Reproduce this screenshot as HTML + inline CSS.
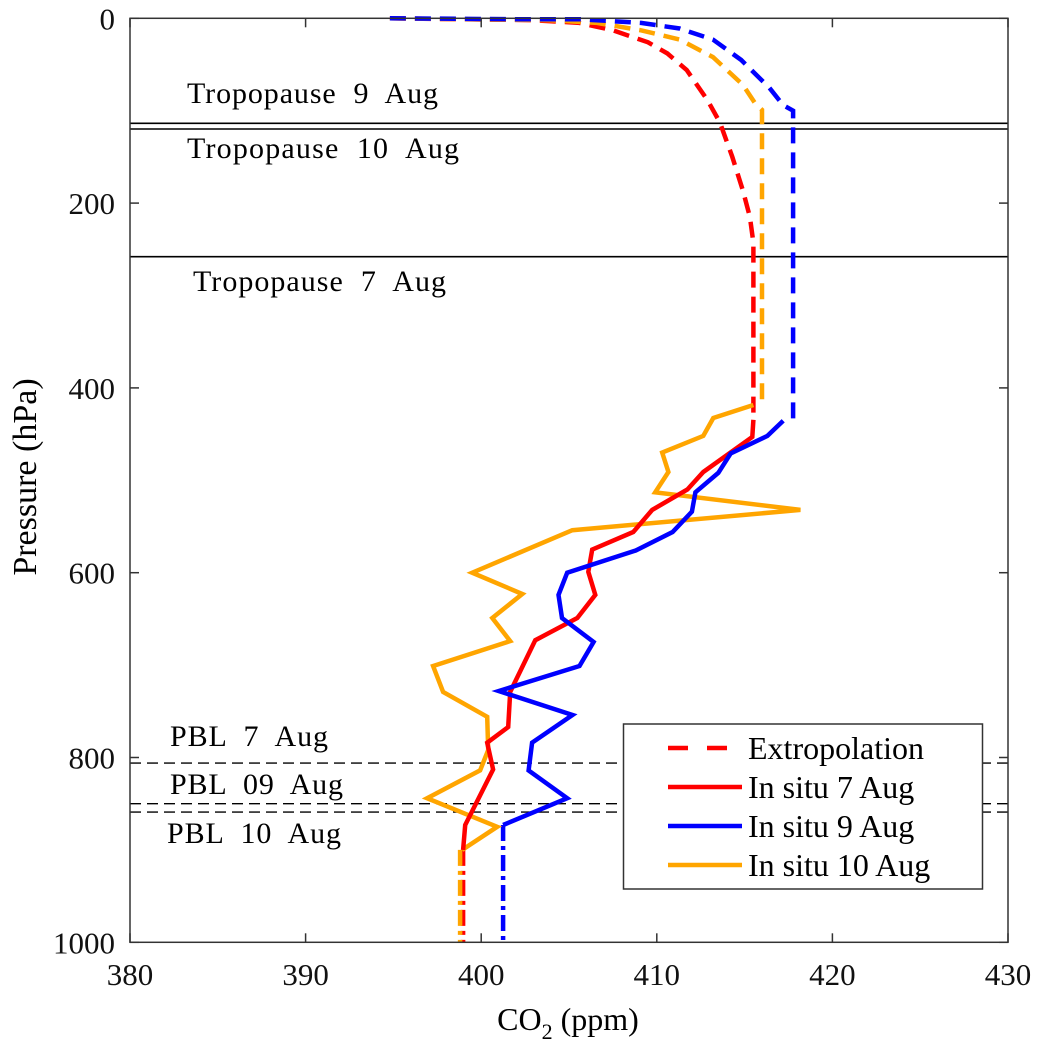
<!DOCTYPE html>
<html><head><meta charset="utf-8">
<style>
html,body{margin:0;padding:0;background:#fff;}
svg{display:block;font-family:"Liberation Serif",serif;}
</style></head>
<body>
<svg id="chart" width="1041" height="1053" viewBox="0 0 1041 1053" xmlns="http://www.w3.org/2000/svg"></svg>
<script>
// ---- data ----
const xTicks = [380, 390, 400, 410, 420, 430];
const yTicks = [0, 200, 400, 600, 800, 1000];

const red7Co2 = [415.50,415.44,412.65,411.74,409.74,408.66,406.32,406.10,406.50,405.47,403.08,401.65,401.54,400.34,400.68,399.09,398.97];
const red7P   = [434.5,453,491,510,532,556,575,599,624,649,673,729,767,784,813,873,900];
const blue9Co2 = [417.2,416.3,414.2,413.5,412.2,412.0,410.9,408.8,404.9,404.4,404.6,406.4,405.6,401.0,405.2,402.9,402.7,404.9,401.25];
const blue9P   = [435.5,452,471,492,513,534,556,576,600,624,649,675,701,728,754,784,814,844,873];
const orange10Co2 = [415.50,413.22,412.65,410.31,410.66,409.91,418.18,405.19,399.49,402.34,400.63,401.65,397.26,397.83,400.34,400.40,399.94,396.92,400.91,398.92];
const orange10P   = [418.5,432.6,452,470,491,513,532,554,600,623,649,674,701,729,756,792,814,844,875,900];

const redExtCo2 = [394.8,402.8,405.6,407.5,409.5,410.6,411.7,412.9,413.6,414.3,414.9,415.3,415.5,415.5];
const redExtP   = [0,2,5,13,26,38,56,89,113,150,186,215,243,434.5];
const blueExtCo2 = [394.8,401.8,405.6,409.1,411.3,413.2,414.8,416.4,417.2,417.76,417.76];
const blueExtP   = [0,1,1,5,11,23,45,75,94,100,435.5];
const orangeExtCo2 = [394.8,403.8,406.6,409.1,411.3,413.2,414.9,415.6,415.99,415.99];
const orangeExtP   = [0,2,5,13,23,42,72,92,99,418.5];

const redBotCo2 = [398.97,398.97], redBotP = [900,1000];
const blueBotCo2 = [401.25,401.25], blueBotP = [873,1000];
const orangeBotCo2 = [398.80,398.80], orangeBotP = [900,1000];

const tropoLabels = ["Tropopause  9  Aug","Tropopause  10  Aug","Tropopause  7  Aug"];
const tropoP = [113.6,119.8,258];
const pblLabels = ["PBL  7  Aug","PBL  09  Aug","PBL  10  Aug"];
const pblP = [806,850,859];

// ---- axes ----
const X0=130, X1=1008, Y0=18.3, Y1=942.3;
const xMin=380,xMax=430,yMin=0,yMax=1000;
const sx = v => X0 + (v-xMin)/(xMax-xMin)*(X1-X0);
const sy = v => Y0 + (v-yMin)/(yMax-yMin)*(Y1-Y0);
const NS="http://www.w3.org/2000/svg";
const svg=document.getElementById('chart');
function mk(tag, attrs, parent){const e=document.createElementNS(NS,tag);for(const k in attrs)e.setAttribute(k,attrs[k]);(parent||svg).appendChild(e);return e;}
function pts(xs,ys){return xs.map((v,i)=>sx(v).toFixed(1)+','+sy(ys[i]).toFixed(1)).join(' ');}

tropoP.forEach((p,i)=>{
  const l=mk('line',{x1:X0,x2:X1,y1:sy(p),y2:sy(p),stroke:'#000','stroke-width':1.6});
  
  
});
pblP.forEach((p,i)=>{
  const l=mk('line',{x1:X0,x2:X1,y1:sy(p),y2:sy(p),stroke:'#000','stroke-width':1.4,'stroke-dasharray':'11,6'});
  
  
});

function series(xs,ys,color,dash,name){
  const a={points:pts(xs,ys),fill:'none',stroke:color,'stroke-width':4.5,'stroke-linejoin':'miter'};
  if(dash)a['stroke-dasharray']=dash;
  const e=mk('polyline',a);
  
  
}
series(redExtCo2,redExtP,'#ff0000','16,9','red-extrapolation');
series(orangeExtCo2,orangeExtP,'#ffa500','16,9','orange-extrapolation');
series(blueExtCo2,blueExtP,'#0000ff','16,9','blue-extrapolation');
series(redBotCo2,redBotP,'#ff0000','16,5,4,5','red-surface-extrapolation');
series(orangeBotCo2,orangeBotP,'#ffa500','16,5,4,5','orange-surface-extrapolation');
series(blueBotCo2,blueBotP,'#0000ff','16,5,4,5','blue-surface-extrapolation');
series(orange10Co2,orange10P,'#ffa500',null,'in-situ-10-aug-line');
series(red7Co2,red7P,'#ff0000',null,'in-situ-7-aug-line');
series(blue9Co2,blue9P,'#0000ff',null,'in-situ-9-aug-line');

const box=mk('rect',{x:X0,y:Y0,width:X1-X0,height:Y1-Y0,fill:'none',stroke:'#333','stroke-width':1.5});



xTicks.forEach(v=>{
  mk('line',{x1:sx(v),x2:sx(v),y1:Y1,y2:Y1-9,stroke:'#333','stroke-width':1.5});
  mk('line',{x1:sx(v),x2:sx(v),y1:Y0,y2:Y0+9,stroke:'#333','stroke-width':1.5});
  const t=mk('text',{x:sx(v),y:985,'text-anchor':'middle','font-size':31,fill:'#111'});
  t.textContent=v;
  
  
});
yTicks.forEach(v=>{
  mk('line',{x1:X0,x2:X0+9,y1:sy(v),y2:sy(v),stroke:'#333','stroke-width':1.5});
  mk('line',{x1:X1,x2:X1-9,y1:sy(v),y2:sy(v),stroke:'#333','stroke-width':1.5});
  const t=mk('text',{x:115,y:sy(v)+11,'text-anchor':'end','font-size':31,fill:'#111'});
  t.textContent=v;
  
  
});

const tropoPos=[[187,103],[187,158],[193,291]];
const tropoW=[251,272,253];
tropoLabels.forEach((s,i)=>{
  const t=mk('text',{x:tropoPos[i][0],y:tropoPos[i][1],'font-size':30,fill:'#000',textLength:tropoW[i],lengthAdjust:'spacing'});
  t.textContent=s;
  t.style.whiteSpace='pre';
  
  
});
const pblPos=[[170,746],[170,794],[167,843]];
const pblW=[158,173,174];
pblLabels.forEach((s,i)=>{
  const t=mk('text',{x:pblPos[i][0],y:pblPos[i][1],'font-size':30,fill:'#000',textLength:pblW[i],lengthAdjust:'spacing'});
  t.textContent=s;
  t.style.whiteSpace='pre';
  
  
});
</script>

<svg style="position:absolute;left:0;top:0" width="1041" height="1053">
  <g>
    <rect x="623.5" y="724" width="359" height="165" fill="#fff" stroke="#333" stroke-width="1.5"/>
    <g>
      <line x1="668" x2="728" y1="748" y2="748" stroke="#ff0000" stroke-width="4.5" stroke-dasharray="20,19"/>
      <text x="748" y="759" font-family="Liberation Serif, serif" font-size="32">Extropolation</text>
    </g>
    <g>
      <line x1="668" x2="742" y1="787" y2="787" stroke="#ff0000" stroke-width="4.5"/>
      <text x="748" y="798" font-family="Liberation Serif, serif" font-size="32">In situ 7 Aug</text>
    </g>
    <g>
      <line x1="668" x2="742" y1="826" y2="826" stroke="#0000ff" stroke-width="4.5"/>
      <text x="748" y="837" font-family="Liberation Serif, serif" font-size="32">In situ 9 Aug</text>
    </g>
    <g>
      <line x1="668" x2="742" y1="865" y2="865" stroke="#ffa500" stroke-width="4.5"/>
      <text x="748" y="876" font-family="Liberation Serif, serif" font-size="32">In situ 10 Aug</text>
    </g>
  </g>
  <text x="568" y="1030" text-anchor="middle" font-family="Liberation Serif, serif" font-size="32">CO<tspan font-size="22" dy="9">2</tspan><tspan dy="-9"> (ppm)</tspan></text>
  <text transform="translate(36,477) rotate(-90)" text-anchor="middle" font-family="Liberation Serif, serif" font-size="34">Pressure (hPa)</text>
</svg>
</body></html>
